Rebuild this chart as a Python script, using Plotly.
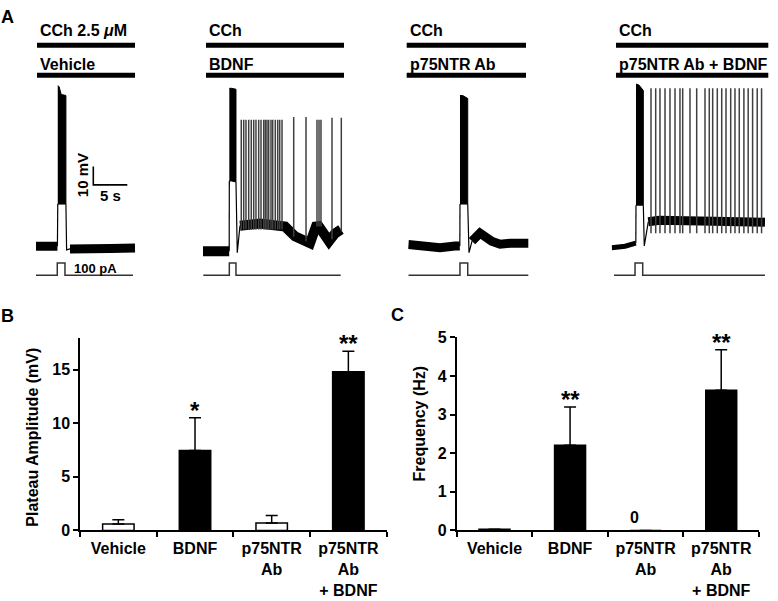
import plotly.graph_objects as go

W, H = 778, 601
FONT = "Arial, 'Liberation Sans', Helvetica, sans-serif"


def fx(px):
    return px / W


def fy(py):
    return 1 - py / H


# ================= Panel A: recordings (time s, membrane potential mV, current pA)
rec_top_labels = ["CCh 2.5 <i>μ</i>M", "CCh", "CCh", "CCh"]
rec_bottom_labels = ["Vehicle", "BDNF", "p75NTR Ab", "p75NTR Ab + BDNF"]

# baseline before the current step
pre_t = [[0.0, 1.5, 3.15],
         [0.0, 2.0, 3.85],
         [0.0, 3.19, 4.66, 6.87, 7.58],
         [0.0, 1.96, 3.55]]
pre_v = [[-59.0, -59.3, -59.0],
         [-61.8, -61.8, -61.8],
         [-58.1, -58.9, -59.8, -58.9, -58.9],
         [-59.8, -59.0, -57.4]]

# spike burst during the current step (upper / lower envelope)
burst_t = [[3.2, 3.4, 3.7, 4.4],
           [3.87, 4.2, 4.85],
           [7.6, 8.0, 8.74],
           [3.57, 4.0, 4.65]]
burst_top = [[27.9, 27.4, 23.2, 22.6],
             [26.5, 26.5, 26.0],
             [22.6, 22.6, 21.0],
             [28.8, 28.3, 25.3]]
burst_bot = [[-36.2, -36.2, -36.2, -36.2],
             [-23.7, -23.7, -24.2],
             [-36.2, -36.2, -36.2],
             [-36.8, -36.8, -36.8]]

# membrane potential after the step
post_t = [[4.5, 5.0, 8.0, 11.0, 14.56],
          [5.04, 5.44, 6.91, 8.38, 9.85, 11.32, 12.06, 13.53, 14.56, 15.74, 16.76, 17.65, 18.53, 19.41, 20.29],
          [8.93, 9.37, 10.54, 12.26, 13.49, 14.96, 16.43, 17.65],
          [4.79, 5.38, 7.0, 15.0, 22.54]]
post_v = [[-61.0, -60.5, -60.8, -60.2, -60.0],
          [-62.5, -47.9, -46.8, -46.8, -47.4, -47.9, -48.4, -53.7, -55.3, -57.4, -46.8, -52.6, -56.3, -52.1, -50.0],
          [-62.5, -56.3, -51.9, -56.3, -57.9, -57.4, -57.9, -57.4],
          [-58.9, -45.8, -45.0, -45.5, -46.0]]

# persistent firing after the step (spike times, peaks, troughs)
spk_t = [[], [5.63, 5.99, 6.32, 6.72, 7.10, 7.46, 7.79, 8.19, 8.53, 8.93, 9.16, 9.41, 9.66,
              10.0, 10.25, 10.63, 10.99, 11.28, 11.62, 13.34, 15.15, 16.76, 17.06, 17.35, 18.97, 20.34],
         [],
         [5.78, 6.47, 7.10, 7.84, 8.57, 9.31, 10.04, 10.44, 11.51, 12.50, 13.72, 14.35, 14.85,
          15.53, 16.18, 16.81, 17.50, 18.13, 18.76, 19.44, 20.07, 20.72, 21.40, 22.04]]
spk_peak = [[], [9.5] * 19 + [11.0, 11.0, 9.5, 9.5, 9.5, 10.5, 10.5], [], [26.5] * 24]
spk_base = [[], [-50.0] * 19 + [-53.7, -56.3, -48.4, -48.4, -48.4, -55.3, -51.0], [], [-52.0] * 24]

# injected current (100 pA step)
cur_t = [[0.0, 3.13, 3.13, 4.26, 4.26, 14.26],
         [0.04, 3.87, 3.87, 4.85, 4.85, 20.25],
         [0.0, 7.60, 7.60, 8.74, 8.74, 17.65],
         [0.34, 3.43, 3.43, 4.56, 4.56, 22.54]]
cur_i = [[0, 0, 100, 100, 0, 0]] * 4

# scale bars
scale_mv = 10
scale_s = 5

# ================= Panels B and C: summary bar charts
categories = ["Vehicle", "BDNF", "p75NTR<br>Ab", "p75NTR<br>Ab<br>+ BDNF"]
plateau_mean = [0.6, 7.45, 0.7, 14.8]
plateau_sem = [0.4, 3.05, 0.7, 1.9]
plateau_sig = ["", "*", "", "**"]
freq_mean = [0.03, 2.21, 0.0, 3.63]
freq_sem = [0.0, 0.99, 0.0, 1.05]
freq_sig = ["", "**", "", "**"]

# ---------------- layout geometry (pixels)
rec_x0 = [36, 203, 408.3, 611.7]
PX_PER_S = 6.8
PX_PER_MV = 1.9
PX_PER_PA = 0.127
REC_W = 165
V_TOP, V_BOT = 60, 270
V_REF_PX, V_REF = 247, -60.0
I_TOP, I_BOT = 255, 285
I_REF_PX = 275

pre_w = [9, 10, 9, 5]
post_w = [9, 10, 9, 9]
bar_fill = ["white", "black", "white", "black"]

fig = go.Figure()

for k in range(4):
    xa = "x" if k == 0 else f"x{k + 1}"
    fig.add_trace(go.Scatter(x=pre_t[k], y=pre_v[k], xaxis=xa, yaxis="y", mode="lines",
                             line=dict(color="black", width=pre_w[k]), hoverinfo="skip"))
    fig.add_trace(go.Scatter(x=[pre_t[k][-1], burst_t[k][0], None, burst_t[k][-1], post_t[k][0], post_t[k][1]],
                             y=[pre_v[k][-1], burst_bot[k][0], None, burst_bot[k][-1], post_v[k][0], post_v[k][1]],
                             xaxis=xa, yaxis="y", mode="lines",
                             line=dict(color="black", width=1.2), hoverinfo="skip"))
    fig.add_trace(go.Scatter(x=post_t[k][1:], y=post_v[k][1:], xaxis=xa, yaxis="y", mode="lines",
                             line=dict(color="black", width=post_w[k]), hoverinfo="skip"))
    fig.add_trace(go.Scatter(x=burst_t[k] + burst_t[k][::-1], y=burst_top[k] + burst_bot[k][::-1],
                             xaxis=xa, yaxis="y", mode="lines", fill="toself", fillcolor="black",
                             line=dict(color="black", width=1), hoverinfo="skip"))
    if spk_t[k]:
        xs, ys = [], []
        for t, p, b in zip(spk_t[k], spk_peak[k], spk_base[k]):
            xs += [t, t, None]
            ys += [b, p, None]
        fig.add_trace(go.Scatter(x=xs, y=ys, xaxis=xa, yaxis="y", mode="lines",
                                 line=dict(color="#404040", width=1.5), hoverinfo="skip"))
    fig.add_trace(go.Scatter(x=cur_t[k], y=cur_i[k], xaxis=xa, yaxis="y2", mode="lines",
                             line=dict(color="#333333", width=1.5), hoverinfo="skip"))

sb_t0 = (93.3 - rec_x0[0]) / PX_PER_S
sb_v0 = -25.8
fig.add_trace(go.Scatter(x=[sb_t0, sb_t0, sb_t0 + scale_s], y=[sb_v0 + scale_mv, sb_v0, sb_v0],
                         xaxis="x", yaxis="y", mode="lines",
                         line=dict(color="black", width=1.6), hoverinfo="skip"))

for means, sems, xa, ya in [(plateau_mean, plateau_sem, "x5", "y3"), (freq_mean, freq_sem, "x6", "y4")]:
    fig.add_trace(go.Bar(x=categories, y=means, xaxis=xa, yaxis=ya, width=0.41,
                         marker=dict(color=bar_fill, line=dict(color="black", width=1.5)),
                         error_y=dict(type="data", symmetric=False, array=sems,
                                      arrayminus=[0] * 4, color="black", thickness=1.5, width=6),
                         hoverinfo="skip"))

layout = dict(width=W, height=H, margin=dict(l=0, r=0, t=0, b=0, pad=0),
              paper_bgcolor="white", plot_bgcolor="rgba(0,0,0,0)", showlegend=False,
              font=dict(family=FONT, color="black", size=15))

v_lo = V_REF - (V_BOT - V_REF_PX) / PX_PER_MV
v_hi = V_REF + (V_REF_PX - V_TOP) / PX_PER_MV
layout["yaxis"] = dict(domain=[fy(V_BOT), fy(V_TOP)], range=[v_lo, v_hi], visible=False, fixedrange=True)
layout["yaxis2"] = dict(domain=[fy(I_BOT), fy(I_TOP)],
                        range=[-(I_BOT - I_REF_PX) / PX_PER_PA, (I_REF_PX - I_TOP) / PX_PER_PA],
                        visible=False, fixedrange=True)
for k in range(4):
    name = "xaxis" if k == 0 else f"xaxis{k + 1}"
    layout[name] = dict(domain=[fx(rec_x0[k]), fx(rec_x0[k] + REC_W)], range=[0, REC_W / PX_PER_S],
                        visible=False, fixedrange=True)

tickfont = dict(family=FONT, size=16, color="black", weight="bold")
for xa, ya, xd, yd, yr, dt in [("xaxis5", "yaxis3", (80, 386.7), (340, 537.7), 17.9, 5),
                               ("xaxis6", "yaxis4", (456.7, 759), (339, 537.7), 5.0, 1)]:
    layout[xa] = dict(domain=[fx(xd[0]), fx(xd[1])], anchor=ya.replace("axis", ""), type="category",
                      range=[-0.5, 3.5], showline=True, linecolor="black", linewidth=1.5,
                      ticks="outside", tickson="boundaries", ticklen=5, tickwidth=1.5, tickcolor="black",
                      tickfont=tickfont, ticklabelstandoff=3,
                      showgrid=False, zeroline=False, fixedrange=True)
    layout[ya] = dict(domain=[fy(yd[1]), fy(yd[0])], anchor=xa.replace("axis", ""), range=[0, yr],
                      dtick=dt, showline=True, linecolor="black", linewidth=1.5,
                      ticks="outside", ticklen=5, tickwidth=1.5, tickcolor="black",
                      tickfont=tickfont, showgrid=False, zeroline=False, fixedrange=True)

fig.update_layout(**layout)

bold = dict(family=FONT, color="black", weight="bold")
ann = []
shapes = []
bar_px = [(37, 135), (206, 344), (406.7, 526), (616, 768.3)]
for k in range(4):
    x0, x1 = bar_px[k]
    for py in (38.3, 69.3):
        shapes.append(dict(type="line", xref="paper", yref="paper", x0=fx(x0), x1=fx(x1),
                           y0=fy(py), y1=fy(py), line=dict(color="black", width=5)))
    ann.append(dict(text=rec_top_labels[k], x=fx(x0 + 1), y=fy(23.5), xanchor="left", yanchor="middle",
                    font=dict(size=16, **bold)))
    ann.append(dict(text=rec_bottom_labels[k], x=fx(x0 + 1), y=fy(58.5), xanchor="left", yanchor="middle",
                    font=dict(size=16, **bold)))

for letter, px, py in [("A", 8, 9), ("B", 7.5, 316.5), ("C", 397.5, 316)]:
    ann.append(dict(text=letter, x=fx(px), y=fy(py), xanchor="center", yanchor="middle",
                    font=dict(size=18, **bold)))

ann.append(dict(text=f"{scale_mv} mV", x=fx(82), y=fy(172), textangle=-90, xanchor="center", yanchor="middle",
                font=dict(size=15, **bold)))
ann.append(dict(text=f"{scale_s} s", x=fx(110), y=fy(193), xanchor="center", yanchor="middle",
                font=dict(size=15, **bold)))
ann.append(dict(text="100 pA", x=fx(72), y=fy(268.3), xanchor="left", yanchor="middle",
                font=dict(size=13, **bold)))

ann.append(dict(text="Plateau Amplitude (mV)", x=fx(32.5), y=fy(441.7), textangle=-90,
                xanchor="center", yanchor="middle", font=dict(size=16, **bold)))
ann.append(dict(text="Frequency (Hz)", x=fx(419), y=fy(427.5), textangle=-90,
                xanchor="center", yanchor="middle", font=dict(size=16, **bold)))

for means, sems, sig, xr, yr in [(plateau_mean, plateau_sem, plateau_sig, "x5", "y3"),
                                 (freq_mean, freq_sem, freq_sig, "x6", "y4")]:
    for c, m, s, g in zip(categories, means, sems, sig):
        if g:
            ann.append(dict(text=g, x=c, y=m + s, xref=xr, yref=yr, xanchor="center", yanchor="bottom",
                            yshift=-8, showarrow=False, font=dict(size=24, **bold)))
ann.append(dict(text="0", x=categories[2], y=0, xref="x6", yref="y4", xanchor="center", yanchor="bottom",
                xshift=-11, yshift=2, showarrow=False, font=dict(size=16, **bold)))

for a in ann:
    a.setdefault("xref", "paper")
    a.setdefault("yref", "paper")
    a.setdefault("showarrow", False)

fig.update_layout(annotations=ann, shapes=shapes)

fig.write_html("out.html", config={"displayModeBar": False},
               post_script="document.body.style.margin='0';document.body.style.overflow='hidden';")
